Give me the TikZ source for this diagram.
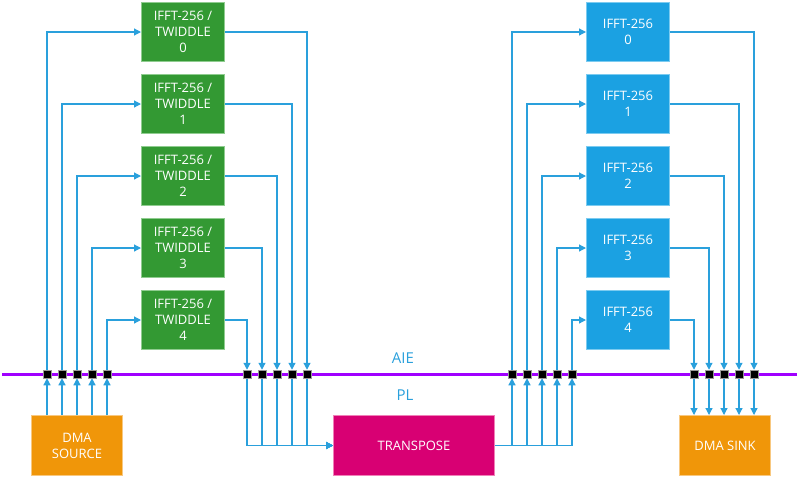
\documentclass[tikz,border=0pt]{standalone}
\usepackage{fontspec}
\setmainfont{Open Sans}
\usetikzlibrary{arrows.meta}
\definecolor{cgreen}{HTML}{339933}
\definecolor{cgreenb}{HTML}{8FCC8F}
\definecolor{cblue}{HTML}{1BA1E2}
\definecolor{cblueb}{HTML}{7CCBF0}
\definecolor{corange}{HTML}{F09609}
\definecolor{corangeb}{HTML}{F8C880}
\definecolor{cmag}{HTML}{D80073}
\definecolor{cmagb}{HTML}{F080B8}
\definecolor{cpurple}{HTML}{A000FF}
\definecolor{cline}{HTML}{2AA0DC}
\begin{document}
\begin{tikzpicture}[x=1pt,y=-1pt,
  box/.style={anchor=north west,minimum width=83pt,minimum height=59pt,inner sep=0pt,
    line width=1pt,text=white,align=center,font=\fontsize{13}{16}\selectfont},
  gbox/.style={box,fill=cgreen,draw=cgreenb},
  bbox/.style={box,fill=cblue,draw=cblueb},
  jn/.style={fill=black,draw=black!40,line width=0.5pt,minimum size=8pt,inner sep=0pt},
  conn/.style={draw=cline,line width=1.2pt,-{Triangle[width=7pt,length=7pt]}},
  plain/.style={draw=cline,line width=1.2pt},
  lbl/.style={text=cline,font=\fontsize{15}{17}\selectfont}]
\useasboundingbox (0,0) rectangle (799,477);
% bus line
\coordinate (busl) at (2,374);
\coordinate (busr) at (797,374);
\draw[cpurple,line width=3pt] (busl) -- (busr);
\node[lbl] (aie) at (403,358) {AIE};
\node[lbl] (pl) at (405,395) {PL};
% green boxes
\foreach \i in {0,...,4}{
  \node[gbox] (g\i) at (141,{2+72*\i}) {IFFT-256 /\\TWIDDLE\\\i};
  \node[bbox] (u\i) at (586,{2+72*\i}) {IFFT-256\\\i};
}
% PL blocks
\node[box,fill=corange,draw=corangeb,minimum width=91pt,minimum height=60pt] (src) at (31,415) {DMA\\SOURCE};
\node[box,fill=cmag,draw=cmagb,minimum width=161pt,minimum height=60pt] (tr) at (333,415) {TRANSPOSE};
\node[box,fill=corange,draw=corangeb,minimum width=91pt,minimum height=60pt] (snk) at (679,415) {DMA SINK};
% junctions
\foreach \k in {1,...,5}{
  \node[jn] (a\k) at ({32+15*\k},374) {};
  \node[jn] (b\k) at ({232+15*\k},374) {};
  \node[jn] (c\k) at ({497+15*\k},374) {};
  \node[jn] (d\k) at ({679+15*\k},374) {};
}
% connectors
\foreach \k [evaluate=\k as \g using int(\k-1), evaluate=\k as \r using int(6-\k)] in {1,...,5}{
  \draw[conn] (src.north -| a\k) -- (a\k.south);
  \draw[conn] (a\k.north) |- (g\g.west);
  \draw[conn] (g\g.east) -| (b\r.north);
  \draw[conn] (b\k.south) |- (tr.west);
  \draw[conn] (c\k.south |- tr.east) -- (c\k.south);
  \draw[conn] (c\k.north) |- (u\g.west);
  \draw[conn] (u\g.east) -| (d\r.north);
  \draw[conn] (d\k.south) -- (d\k.south |- snk.north);
}
\draw[plain] (tr.east) -- (tr.east -| c5);
% redraw junctions on top
\foreach \k in {1,...,5}{
  \node[jn] at (a\k) {};
  \node[jn] at (b\k) {};
  \node[jn] at (c\k) {};
  \node[jn] at (d\k) {};
}
\end{tikzpicture}
\end{document}
